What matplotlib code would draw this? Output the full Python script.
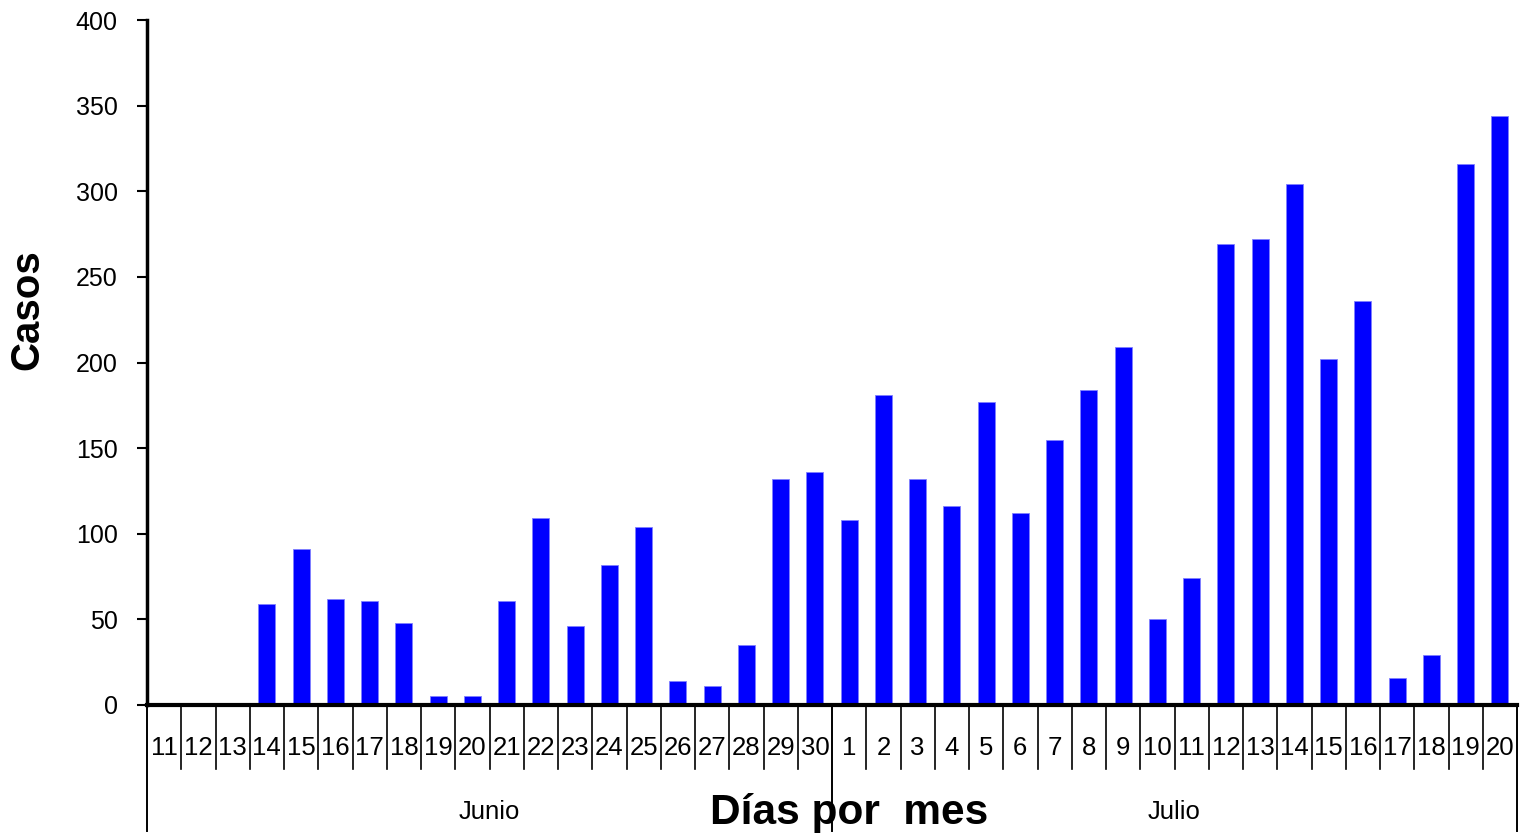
import matplotlib
matplotlib.use('Agg')
import matplotlib.pyplot as plt
import numpy as np

plt.rcParams['font.family'] = ['Liberation Sans', 'DejaVu Sans']

# Datos: casos por día (11 junio - 20 julio)
dias_junio = [str(d) for d in range(11, 31)]
dias_julio = [str(d) for d in range(1, 21)]
casos_junio = [0, 0, 0, 59, 91, 62, 61, 48, 5, 5,
               61, 109, 46, 82, 104, 14, 11, 35, 132, 136]
casos_julio = [108, 181, 132, 116, 177, 112, 155, 184, 209, 50,
               74, 269, 272, 304, 202, 236, 16, 29, 316, 344]
meses = ['Junio', 'Julio']

dias = dias_junio + dias_julio
casos = casos_junio + casos_julio
x = np.arange(len(dias))

fig = plt.figure(figsize=(15.31, 8.4), dpi=100)
ax = fig.add_axes([147 / 1531, 135 / 840, 1370 / 1531, 685 / 840])

ax.bar(x, casos, width=0.5, color='#0000FF', edgecolor='#8080FF', linewidth=0.6)

ax.set_xlim(-0.5, len(dias) - 0.5)
ax.set_ylim(0, 400)
ax.set_yticks(np.arange(0, 401, 50))
ax.tick_params(axis='y', direction='out', length=7, width=1.5, labelsize=18, pad=14)
ax.set_xticks([])

for s in ['top', 'right']:
    ax.spines[s].set_visible(False)
ax.spines['left'].set_linewidth(2.5)
ax.spines['bottom'].set_linewidth(3)

trans = ax.get_xaxis_transform()

# separadores de días
for i in range(1, len(dias)):
    if i == len(dias_junio):
        continue
    ax.plot([i - 0.5, i - 0.5], [0, -0.0934], transform=trans, color='black',
            lw=1.2, clip_on=False)

# separadores de meses (largos)
for xs in [-0.5, len(dias_junio) - 0.5, len(dias) - 0.5]:
    ax.plot([xs, xs], [0, -0.184], transform=trans, color='black',
            lw=1.4, clip_on=False)

# etiquetas de días
for i, d in enumerate(dias):
    ax.text(i, -0.063, d, transform=trans, ha='center', va='center', fontsize=18.5)

# etiquetas de meses
centros = [(len(dias_junio) - 1) / 2, len(dias_junio) + (len(dias_julio) - 1) / 2]
for c, m in zip(centros, meses):
    ax.text(c, -0.156, m, transform=trans, ha='center', va='center', fontsize=18.5)

ax.text(0.5124, -0.157, 'Días por  mes', transform=ax.transAxes, ha='center',
        va='center', fontsize=30.5, fontweight='bold')
fig.text(27.5 / 1531, 1 - 310 / 840, 'Casos', rotation=90, ha='center', va='center',
         fontsize=29, fontweight='bold')

fig.savefig('out.png', dpi=100)
